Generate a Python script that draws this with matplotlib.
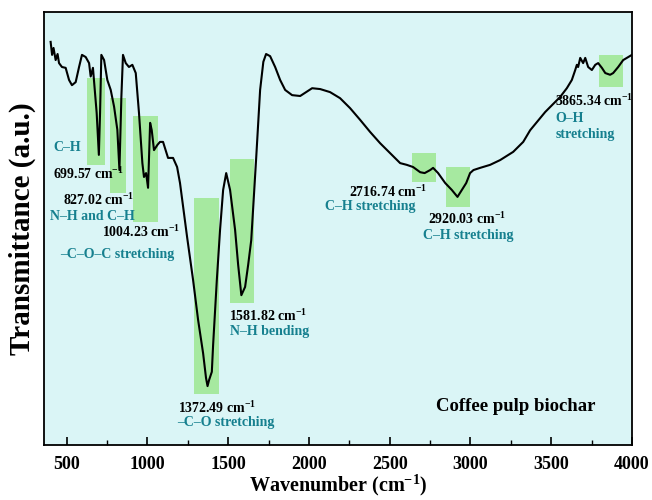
import matplotlib
matplotlib.use("Agg")
import matplotlib.pyplot as plt
from matplotlib.patches import Rectangle
from matplotlib.ticker import MultipleLocator

# FTIR spectrum (wavenumber in cm-1, transmittance a.u.)
wavenumber = [401, 410, 419, 432, 444, 453, 471, 494, 515, 533, 556, 577, 595, 618,
              639, 649, 663, 674, 686, 699.6, 707, 715, 732, 752, 773, 794, 814, 827,
              839, 849, 866, 886, 907, 928, 948, 969, 979, 992, 1004.2, 1017, 1027,
              1041, 1062, 1078, 1097, 1128, 1159, 1184, 1202, 1246, 1283, 1314, 1345,
              1363, 1372.5, 1382, 1399, 1407, 1430, 1450, 1469, 1488, 1512, 1543,
              1562, 1581.8, 1605, 1624, 1643, 1674, 1698, 1718, 1735, 1760, 1791,
              1822, 1853, 1896, 1946, 1983, 2020, 2070, 2131, 2193, 2255, 2317,
              2379, 2441, 2503, 2565, 2606, 2645, 2689, 2716.7, 2751, 2769, 2800,
              2844, 2885, 2920, 2947, 2974, 2998, 3019, 3060, 3122, 3184, 3265,
              3327, 3370, 3463, 3556, 3597, 3628, 3649, 3659, 3667, 3680, 3698,
              3711, 3729, 3752, 3773, 3791, 3814, 3835, 3865, 3884, 3915, 3946,
              3977, 4000]
transmittance = [93.1, 90.1, 91.7, 88.9, 90.3, 88.2, 87.3, 87.1, 84.3, 83.1, 83.8, 87.3,
                 90.1, 89.6, 88.2, 85.1, 87.1, 82.0, 76.7, 67.0, 76.7, 90.1, 88.9, 84.3,
                 82.0, 78.1, 72.8, 63.5, 80.4, 90.1, 88.2, 87.3, 87.8, 85.9, 76.7, 65.1,
                 61.9, 62.8, 59.4, 74.4, 72.7, 68.1, 69.3, 70.0, 70.0, 66.3, 66.3, 64.2,
                 60.5, 48.0, 38.1, 28.9, 21.2, 15.5, 13.6, 15.0, 16.9, 23.1, 38.1, 49.7,
                 58.9, 62.8, 58.9, 49.7, 41.6, 34.6, 36.5, 41.6, 47.3, 66.5, 82.0, 88.5,
                 90.3, 89.8, 87.3, 84.3, 82.0, 80.8, 80.6, 81.5, 82.4, 82.2, 81.5, 80.1,
                 77.8, 75.1, 72.3, 69.7, 67.4, 65.1, 64.7, 64.2, 63.0, 62.8, 63.5, 64.0,
                 62.8, 60.5, 58.9, 57.3, 58.9, 60.5, 62.8, 63.5, 64.0, 64.7, 65.8, 67.7,
                 70.0, 72.7, 76.9, 80.4, 82.4, 84.3, 86.6, 87.8, 87.3, 89.4, 88.2, 89.4,
                 87.3, 86.6, 87.8, 88.2, 87.1, 85.9, 85.5, 85.9, 87.3, 88.9, 89.6, 90.1]

# highlighted band regions: wavenumber span and transmittance span
band_x0 = [626, 769, 911, 1289, 1512, 2639, 2850, 3798]
band_x1 = [738, 868, 1066, 1444, 1661, 2788, 2999, 3946]
band_y0 = [64.7, 58.2, 51.5, 11.8, 32.8, 60.7, 55.0, 82.7]
band_y1 = [84.8, 80.1, 76.0, 57.0, 66.1, 67.4, 64.2, 90.1]

CM = r"cm$^{-1}$"
peak_labels = ["699.57 " + CM, "827.02 " + CM, "1004.23 " + CM, "1372.49 " + CM,
               "1581.82 " + CM, "2716.74 " + CM, "2920.03 " + CM, "3865.34 " + CM]
peak_label_x = [416, 478, 719, 1190, 1506, 2249, 2738, 3525]
peak_label_y = [62.6, 56.6, 49.2, 8.5, 29.8, 58.4, 52.2, 79.4]

group_labels = ["C–H", "N–H and C–H", "–C–O–C stretching", "–C–O stretching",
                "N–H bending", "C–H stretching", "C–H stretching", "O–H", "stretching"]
group_label_x = [416, 397, 459, 1184, 1512, 2100, 2707, 3525, 3525]
group_label_y = [68.8, 52.7, 44.1, 5.1, 26.1, 55.0, 48.3, 75.5, 71.8]

TEAL = "#16808f"
BAND = "#a6e9a0"

plt.rcParams["font.family"] = ["Liberation Serif", "DejaVu Serif"]
plt.rcParams["font.weight"] = "bold"
plt.rcParams["mathtext.fontset"] = "custom"
plt.rcParams["mathtext.rm"] = "Liberation Serif:bold"
plt.rcParams["mathtext.it"] = "Liberation Serif:bold"
plt.rcParams["mathtext.bf"] = "Liberation Serif:bold"

fig = plt.figure(figsize=(6.52, 5.0), dpi=100)
ax = fig.add_axes([0.0675, 0.11, 0.9017, 0.866])
ax.set_facecolor("#daf5f6")

for x0, x1, y0, y1 in zip(band_x0, band_x1, band_y0, band_y1):
    ax.add_patch(Rectangle((x0, y0), x1 - x0, y1 - y0, facecolor=BAND,
                           edgecolor="none", zorder=1))

ax.plot(wavenumber, transmittance, color="black", lw=1.5, zorder=3)

for txt, x, y in zip(peak_labels, peak_label_x, peak_label_y):
    ax.text(x, y, txt, fontsize=10, fontweight="bold", color="black",
            ha="left", va="center", zorder=4)
for txt, x, y in zip(group_labels, group_label_x, group_label_y):
    ax.text(x, y, txt, fontsize=10, fontweight="bold", color=TEAL,
            ha="left", va="center", zorder=4)

ax.text(2788, 8.8, "Coffee pulp biochar", fontsize=13.5, fontweight="bold",
        ha="left", va="center")

ax.set_xlim(360, 4000)
ax.set_ylim(0, 100)
ax.xaxis.set_major_locator(MultipleLocator(500))
ax.xaxis.set_minor_locator(MultipleLocator(250))
ax.set_yticks([])
ax.tick_params(axis="x", which="major", direction="in", length=6, width=1.2,
               labelsize=13, pad=8)
ax.tick_params(axis="x", which="minor", direction="in", length=3.5, width=1.0)
for lbl in ax.get_xticklabels():
    lbl.set_fontweight("bold")
for sp in ax.spines.values():
    sp.set_linewidth(1.3)

# x label placed by hand so the superscript and parentheses stay inside the figure
fig.text(0.518, 0.003, "Wavenumber (" + CM + ")", fontsize=14.5, fontweight="bold",
         ha="center", va="bottom")
ax.set_ylabel("Transmittance (a.u.)", fontsize=21, fontweight="bold", labelpad=6)

fig.savefig("out.png", dpi=100)
